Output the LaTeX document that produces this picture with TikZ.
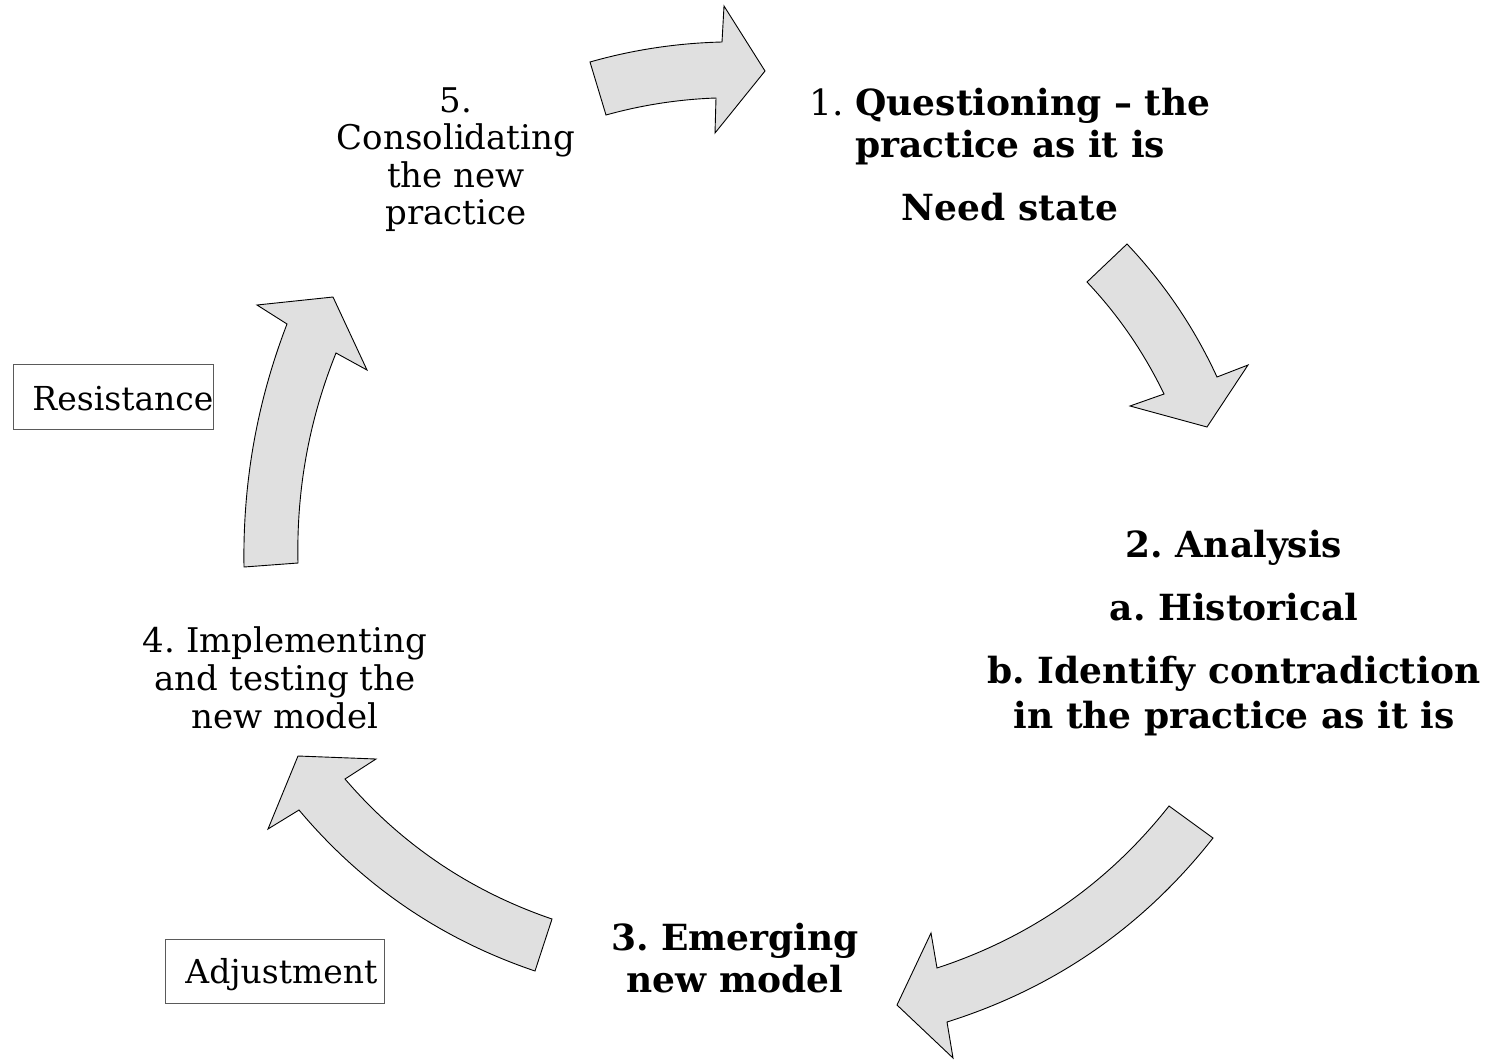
\documentclass[tikz,border=0pt]{standalone}
\usepackage{fontspec}
\setmainfont{DejaVu Serif}
\frenchspacing
\definecolor{arrowfill}{RGB}{224,224,224}
\definecolor{boxline}{RGB}{90,90,90}
\tikzset{
  cyclearrow/.style={draw=black, fill=arrowfill, line width=0.9pt, line join=miter},
  boldlabel/.style={anchor=base, inner sep=0pt},
  plainlabel/.style={anchor=base, inner sep=0pt},
  sidebox/.style={draw=boxline, line width=0.9pt, anchor=base west, inner sep=0pt}
}
\begin{document}
\begin{tikzpicture}[x=1pt,y=-1pt]
\useasboundingbox (0,0) rectangle (1496,1061);
% arrows
\draw[cyclearrow] (590,62) .. controls (633.1,49.7) and (677.1,43.1) .. (722,42) -- (724,6) -- (765,71) -- (715,133) -- (716,98) .. controls (678.7,99.3) and (642,105) .. (606,115) -- cycle;
\draw[cyclearrow] (1127,244) .. controls (1164.3,283.4) and (1194.3,327.7) .. (1217,377) -- (1248,365) -- (1207,427) -- (1130,406) -- (1164,394) .. controls (1144.1,352.7) and (1118.5,315.3) .. (1087,282) -- cycle;
\draw[cyclearrow] (1169,806) -- (1213,838) .. controls (1143.3,926.7) and (1054.7,988.1) .. (947,1022) -- (953,1058) -- (897,1005) -- (931,933) -- (937,968) .. controls (1030.6,937.3) and (1107.9,883.3) .. (1169,806) -- cycle;
\draw[cyclearrow] (552,919) -- (535,971) .. controls (441.3,939.3) and (362.6,885.7) .. (299,810) -- (268,829) -- (298,756) -- (376,759) -- (345,779) .. controls (401.3,844.5) and (470.3,891.1) .. (552,919) -- cycle;
\draw[cyclearrow] (244,567) .. controls (242.6,483.2) and (256.9,402.2) .. (287,324) -- (257,305) -- (333,297) -- (367,370) -- (336,353) .. controls (308.9,420.4) and (296.3,490.4) .. (298,563) -- cycle;
% labels
\node[boldlabel] (step1) at (1010,115) {\fontsize{36pt}{42pt}\selectfont\begin{tabular}[t]{@{}c@{}}1.\ \textbf{Questioning – the}\\ \textbf{practice as it is}\\[21pt] \textbf{Need state}\end{tabular}};
\node[boldlabel] (step2) at (1234,557) {\fontsize{36pt}{45pt}\selectfont\bfseries\begin{tabular}[t]{@{}c@{}}2. Analysis\\[18pt] a. Historical\\[18pt] b. Identify contradiction\\ in the practice as it is\end{tabular}};
\node[boldlabel] (step3) at (735,950) {\fontsize{36pt}{42pt}\selectfont\bfseries\begin{tabular}[t]{@{}c@{}}3. Emerging\\ new model\end{tabular}};
\node[plainlabel] (step4) at (285,652) {\fontsize{34pt}{38pt}\selectfont\begin{tabular}[t]{@{}c@{}}4. Implementing\\ and testing the\\ new model\end{tabular}};
\node[plainlabel] (step5) at (456,112) {\fontsize{34pt}{37.5pt}\selectfont\begin{tabular}[t]{@{}c@{}}5.\\ Consolidating\\ the new\\ practice\end{tabular}};
% side boxes
\node[sidebox, text height=46pt, text depth=19pt] (resistance) at (13,410) {\fontsize{33pt}{38pt}\selectfont\makebox[200pt][l]{\hspace*{19pt}Resistance}};
\node[sidebox, text height=44pt, text depth=20pt] (adjustment) at (165,983) {\fontsize{33pt}{38pt}\selectfont\makebox[219pt][l]{\hspace*{20pt}Adjustment}};
\end{tikzpicture}
\end{document}
